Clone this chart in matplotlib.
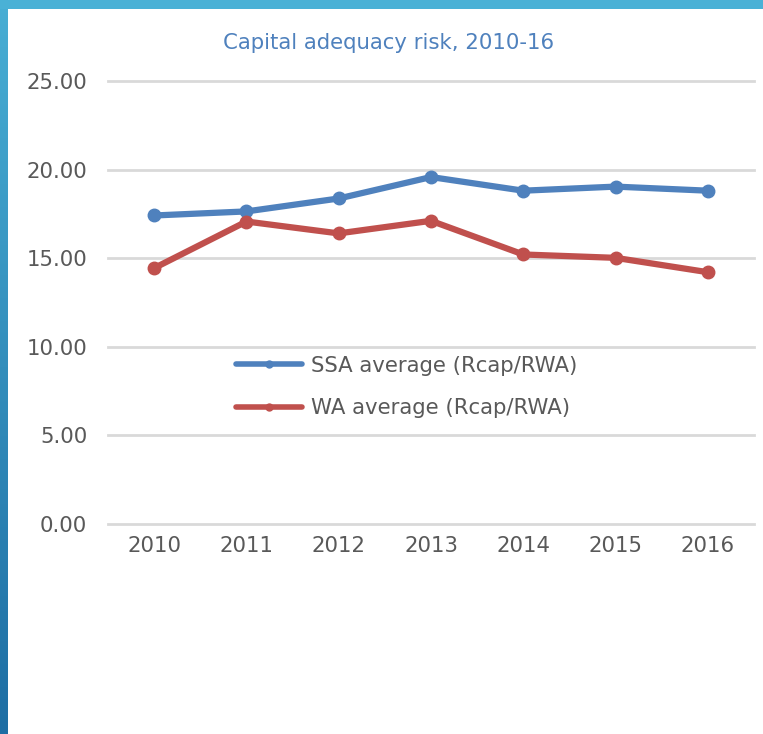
import numpy as np
import matplotlib
matplotlib.use("Agg")
import matplotlib.pyplot as plt
from matplotlib.lines import Line2D
from matplotlib.colors import LinearSegmentedColormap

years = ["2010", "2011", "2012", "2013", "2014", "2015", "2016"]
ssa_avg = [17.41, 17.64, 18.37, 19.58, 18.81, 19.04, 18.81]
wa_avg = [14.44, 17.07, 16.40, 17.11, 15.21, 15.02, 14.21]
series_names = ["SSA average (Rcap/RWA)", "WA average (Rcap/RWA)"]
title = "Capital adequacy risk, 2010-16"
yticks = [0, 5, 10, 15, 20, 25]

W, H = 763, 734
fig = plt.figure(figsize=(W / 100, H / 100), dpi=100)
fig.patch.set_facecolor("white")
plt.rcParams["font.family"] = ["DejaVu Sans"]

# decorative frame: top band and gradient left band
band_ax = fig.add_axes([0, 0, 8 / W, 1])
grad = np.linspace(0, 1, 256).reshape(-1, 1)
cmap = LinearSegmentedColormap.from_list("b", ["#48AED4", "#1E6EA4"])
band_ax.imshow(grad, aspect="auto", cmap=cmap, extent=[0, 1, 0, 1], origin="upper")
band_ax.set_axis_off()
fig.patches.append(plt.Rectangle((0, 1 - 9 / H), 1, 9 / H, transform=fig.transFigure,
                                 facecolor="#4AB1D6", edgecolor="none", zorder=5))

ax = fig.add_axes([108 / W, (H - 524) / H, 646 / W, (524 - 81) / H])
x = np.arange(len(years))
blue = "#4F81BD"
red = "#C0504D"
ax.plot(x, ssa_avg, color=blue, lw=4.5, marker="o", ms=9, solid_capstyle="round", zorder=3)
ax.plot(x, wa_avg, color=red, lw=4.5, marker="o", ms=9, solid_capstyle="round", zorder=3)

ax.set_xlim(-0.5, len(years) - 0.5)
ax.set_ylim(0, 25)
ax.set_yticks(yticks)
ax.set_yticklabels([f"{v:.2f}" for v in yticks])
ax.set_xticks(x)
ax.set_xticklabels(years)
ax.tick_params(axis="both", length=0, labelsize=15.3, labelcolor="#595959")
ax.tick_params(axis="y", pad=15)
ax.tick_params(axis="x", pad=9)
ax.grid(axis="y", color="#D9D9D9", lw=2)
for gl in ax.get_ygridlines():
    gl.set_clip_on(False)
ax.set_axisbelow(True)
for s in ax.spines.values():
    s.set_visible(False)
ax.set_facecolor("none")

fig.text(389 / W, (H - 43) / H, title, ha="center", va="center",
         fontsize=15.3, color=blue)

handles = [Line2D([], [], color=blue, lw=4, marker="o", ms=5, solid_capstyle="round"),
           Line2D([], [], color=red, lw=4, marker="o", ms=5, solid_capstyle="round")]
leg = fig.legend(handles, series_names, loc="center left",
                 bbox_to_anchor=(236 / W, (H - 387) / H), frameon=False,
                 fontsize=15.3, handlelength=3.1, handletextpad=0.45,
                 labelspacing=1.05, borderpad=0, borderaxespad=0)
for t in leg.get_texts():
    t.set_color("#595959")

fig.savefig("out.png", dpi=100, facecolor="white")
